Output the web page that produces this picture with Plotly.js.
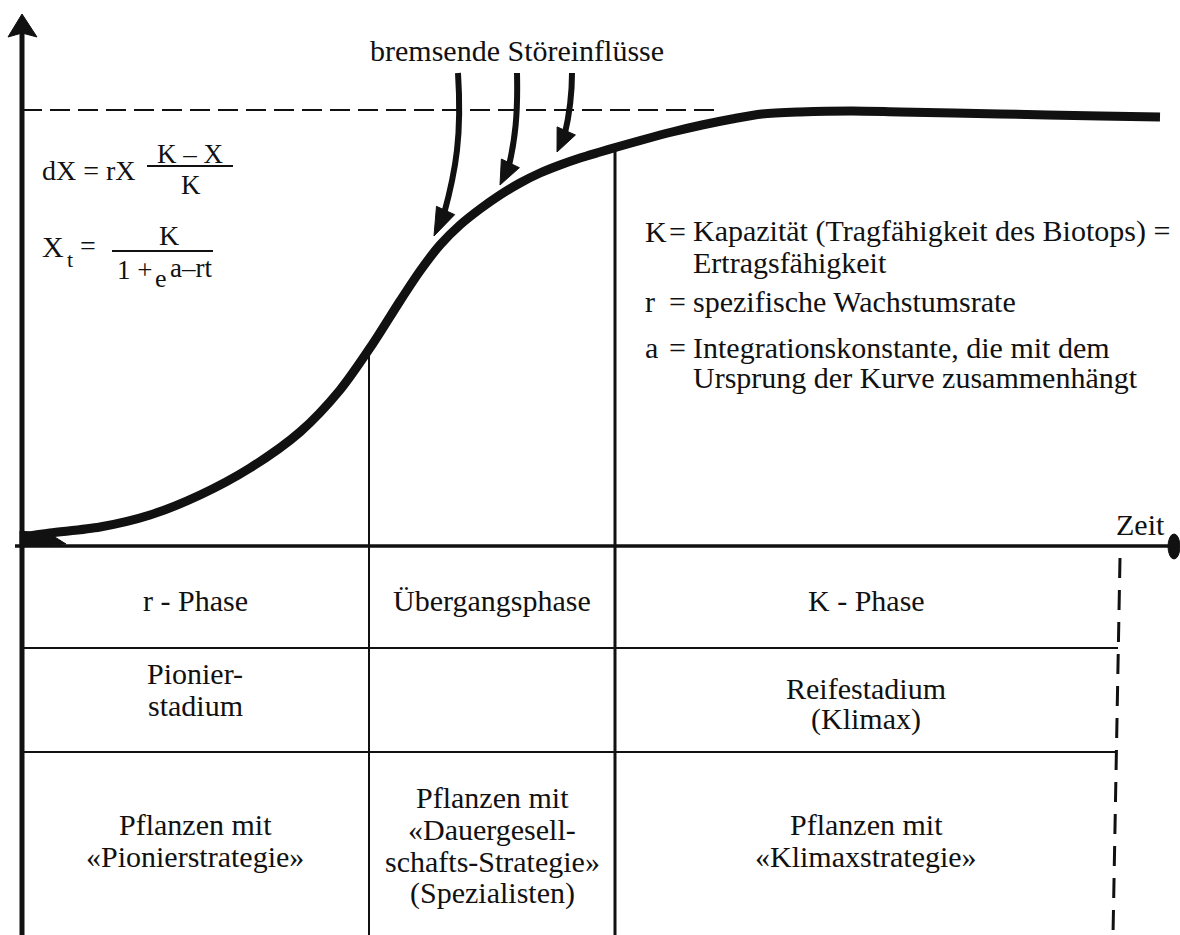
<!DOCTYPE html>
<html>
<head>
<meta charset="utf-8">
<script src="https://cdn.plot.ly/plotly-3.0.1.min.js"></script>
<style>html,body{margin:0;padding:0;background:#fff;}#chart{width:1180px;height:935px;}</style>
</head>
<body>
<div id="chart"></div>
<script>
// ---- Data (units: pixels from the origin) ----
const zeit = [0, 28, 78, 128, 178, 228, 278, 318, 350, 378, 398, 418, 438, 458, 478, 498, 518, 538, 558, 578, 595, 620, 650, 680, 710, 740, 778, 830, 878, 978, 1078, 1138];
const population = [9, 13, 19, 31, 51, 78, 114, 156, 201, 245, 275, 301, 321, 337, 351, 363, 373, 381, 388, 394, 399, 406, 414, 421, 427, 432, 434, 435, 434, 432, 430, 429];
const kapazitaet = 436;
const phaseGrenzenT = [347, 593];
const phaseGrenzenTop = [197, 396];
const zeilenGrenzen = [-102, -206];
const zeilenEnde = [1096, 1094];
const endeT = [1098, 1091];
const unten = -389;

const spaltenTitel = ["r - Phase", "Übergangsphase", "K - Phase"];
const stadien = [["Pionier-", "stadium"], [], ["Reifestadium", "(Klimax)"]];
const strategien = [["Pflanzen mit", "«Pionierstrategie»"],
                    ["Pflanzen mit", "«Dauergesell-", "schafts-Strategie»", "(Spezialisten)"],
                    ["Pflanzen mit", "«Klimaxstrategie»"]];
const legendeLabels = ["K", "", "r", "a", ""];
const legendeTexte = ["Kapazität (Tragfähigkeit des Biotops) =", "Ertragsfähigkeit",
                      "spezifische Wachstumsrate", "Integrationskonstante, die mit dem",
                      "Ursprung der Kurve zusammenhängt"];

// ---- helpers (pixel -> data) ----
const OX = 22, OY = 546;
const tx = px => px - OX;
const ty = py => OY - py;
const FONT = "Liberation Serif";
const INK = "#111";

const traces = [];
function seg(x, y, w, dash) {
  traces.push({x: x, y: y, type: "scatter", mode: "lines", hoverinfo: "skip",
    line: {color: INK, width: w, dash: dash || "solid"}});
}
// axes
seg([0, 0], [unten, ty(30)], 5);
seg([tx(15), tx(1170)], [0, 0], 3.5);
// K dashed line
seg([0, tx(720)], [kapazitaet, kapazitaet], 2, "20px,8px");
// phase boundaries
seg([phaseGrenzenT[0], phaseGrenzenT[0]], [phaseGrenzenTop[0], unten], 2);
seg([phaseGrenzenT[1], phaseGrenzenT[1]], [phaseGrenzenTop[1], unten], 3);
// rows
zeilenGrenzen.forEach((g, i) => seg([0, zeilenEnde[i]], [g, g], 2));
// dashed end of time
seg(endeT, [-12, unten], 3, "20px,12px");
// curve
traces.push({x: zeit, y: population, type: "scatter", mode: "lines", hoverinfo: "skip",
  line: {color: INK, width: 9, shape: "spline", smoothing: 0.8}});

// ---- shapes ----
const shapes = [];
function poly(pts) {
  let d = pts.map((p, i) => (i ? "L" : "M") + tx(p[0]) + "," + ty(p[1])).join(" ") + " Z";
  shapes.push({type: "path", path: d, xref: "x", yref: "y", fillcolor: INK, line: {color: INK, width: 1}});
}
// y-axis arrow head
poly([[22, 14], [37, 37], [22, 33], [8, 37]]);
// origin blob of the curve
poly([[20, 531], [50, 534], [66, 544], [20, 547]]);
// x-axis end blob
shapes.push({type: "circle", xref: "x", yref: "y", x0: tx(1168), x1: tx(1180), y0: ty(534), y1: ty(559),
  fillcolor: INK, line: {color: INK, width: 1}});
// fraction bars
shapes.push({type: "line", xref: "x", yref: "y", x0: tx(147), x1: tx(233), y0: ty(166), y1: ty(166), line: {color: INK, width: 2}});
shapes.push({type: "line", xref: "x", yref: "y", x0: tx(112), x1: tx(213), y0: ty(251), y1: ty(251), line: {color: INK, width: 2}});

// curved arrows (pixel space)
function curvedArrow(start, c1, c2, tip, dir, len, half) {
  const n = Math.hypot(dir[0], dir[1]);
  const ux = dir[0] / n, uy = dir[1] / n;
  const bx = tip[0] - ux * len, by = tip[1] - uy * len;
  const px = -uy, py = ux;
  const d = "M" + tx(start[0]) + "," + ty(start[1]) +
    " C" + tx(c1[0]) + "," + ty(c1[1]) + " " + tx(c2[0]) + "," + ty(c2[1]) + " " + tx(bx + ux * 4) + "," + ty(by + uy * 4);
  shapes.push({type: "path", path: d, xref: "x", yref: "y", line: {color: INK, width: 6}});
  poly([tip, [bx + px * half, by + py * half], [bx - px * half, by - py * half]]);
}
curvedArrow([458, 73], [462, 135], [456, 170], [434, 236], [-15, 33], 28, 10);
curvedArrow([517, 73], [518, 115], [515, 140], [500, 185], [-12, 25], 24, 10);
curvedArrow([572, 73], [572, 95], [570, 112], [557, 152], [-11, 25], 23, 10);

// ---- annotations ----
const annotations = [];
function txt(px, py, text, anchor, size) {
  annotations.push({x: tx(px), y: ty(py), xref: "x", yref: "y", text: text, showarrow: false,
    xanchor: anchor || "center", yanchor: "middle",
    font: {family: FONT, size: size || 30, color: INK}});
}
txt(517, 50, "bremsende Störeinflüsse");
txt(1140, 524, "Zeit");
// formulas
txt(40, 170, "dX = rX", "left", 28);
txt(190, 154, "K – X", "center", 27);
txt(191, 185, "K", "center", 27);
txt(40, 246, "X", "left", 30);
txt(65, 259, "t", "left", 22);
txt(78, 245, "=", "left", 28);
txt(169, 235, "K", "center", 28);
txt(115, 270, "1 +", "left", 27);
txt(153, 278, "e", "left", 26);
txt(168, 268, "a–rt", "left", 27);
// legend
const legY = [231, 262, 301, 347, 377];
legendeTexte.forEach((t, i) => {
  if (legendeLabels[i]) {
    txt(643, legY[i], legendeLabels[i], "left");
    txt(667, legY[i], "=", "left");
  }
  txt(691, legY[i], t, "left");
});
// table
const colX = [195, 492, 866];
spaltenTitel.forEach((t, i) => txt(colX[i], 600, t));
const stadY = [[673, 705], [], [688, 719]];
stadien.forEach((lines, i) => lines.forEach((l, j) => txt(colX[i], stadY[i][j], l)));
const stratY = [[824, 856], [797, 829, 861, 893], [824, 856]];
strategien.forEach((lines, i) => lines.forEach((l, j) => txt(colX[i], stratY[i][j], l)));

const layout = {
  width: 1180, height: 935,
  margin: {l: 0, r: 0, t: 0, b: 0, pad: 0},
  paper_bgcolor: "#fff", plot_bgcolor: "#fff",
  showlegend: false, hovermode: false,
  xaxis: {range: [tx(0), tx(1180)], visible: false, fixedrange: true},
  yaxis: {range: [ty(935), ty(0)], visible: false, fixedrange: true},
  shapes: shapes, annotations: annotations
};
Plotly.newPlot("chart", traces, layout, {staticPlot: true, displayModeBar: false});
</script>
</body>
</html>
